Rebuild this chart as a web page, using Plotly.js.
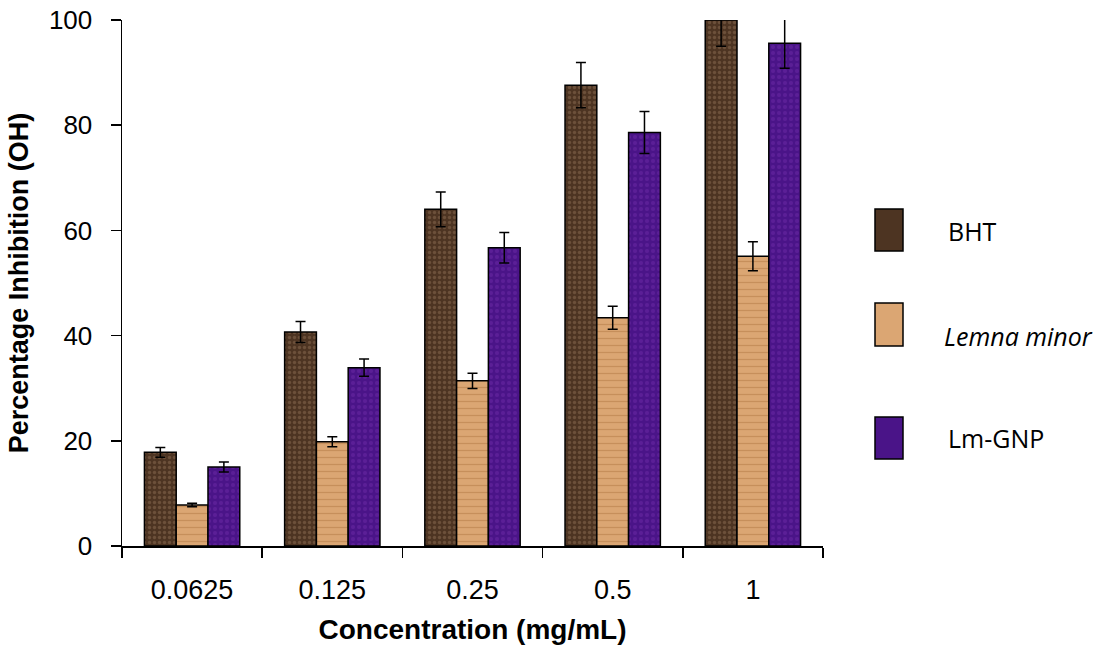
<!DOCTYPE html>
<html>
<head>
<meta charset="utf-8">
<script src="https://cdn.plot.ly/plotly-3.0.1.min.js"></script>
<style>html,body{margin:0;padding:0;background:#fff;}#chart{width:1106px;height:651px;}</style>
</head>
<body>
<div id="chart"></div>
<script>
const categories = ["0.0625", "0.125", "0.25", "0.5", "1"];
const seriesNames = ["BHT", "<i>Lemna minor</i>", "Lm-GNP"];
const bhtValues = [17.8, 40.7, 64.0, 87.6, 100];
const bhtErrors = [0.95, 2.0, 3.3, 4.3, 5.0];
const lemnaValues = [7.8, 19.8, 31.4, 43.4, 55.1];
const lemnaErrors = [0.35, 0.95, 1.45, 2.2, 2.75];
const lmgnpValues = [15.0, 33.9, 56.7, 78.6, 95.6];
const lmgnpErrors = [0.95, 1.65, 2.9, 4.0, 4.75];
const yTicks = [0, 20, 40, 60, 80, 100];

const styles = [
  {bg: "#4d3422", fg: "#8c6c52", shape: ".", size: 5, solidity: 0.35},
  {bg: "#dba673", fg: "#b27843", shape: "-", size: 7, solidity: 0.18},
  {bg: "#4a1488", fg: "#6b2aa6", shape: ".", size: 6, solidity: 0.35}
];

function barTrace(name, vals, errs, st) {
  return {
    type: "bar", name: name, x: categories, y: vals,
    marker: {
      color: st.bg,
      line: {color: "#000", width: 1.5},
      pattern: {shape: st.shape, fgcolor: st.fg, bgcolor: st.bg, size: st.size, solidity: st.solidity, fillmode: "overlay"}
    },
    error_y: {type: "data", array: errs, visible: true, color: "#000", thickness: 1.5, width: 5},
    showlegend: false
  };
}

const data = [
  barTrace(seriesNames[0], bhtValues, bhtErrors, styles[0]),
  barTrace(seriesNames[1], lemnaValues, lemnaErrors, styles[1]),
  barTrace(seriesNames[2], lmgnpValues, lmgnpErrors, styles[2])
];

// plot area in pixels
const L = 122, R = 823, T = 20, B = 546;
function px(x) { return (x - L) / (R - L); }
function py(y) { return (B - y) / (B - T); }

const legendBoxes = [[209, 251], [303, 346], [417, 459]];
const legendTextY = [231, 336, 438];
const shapes = legendBoxes.map((b, i) => ({
  type: "rect", xref: "paper", yref: "paper",
  x0: px(875), x1: px(903), y0: py(b[1]), y1: py(b[0]),
  fillcolor: styles[i].bg, line: {color: "#000", width: 1.5}
}));
const annotations = seriesNames.map((n, i) => ({
  xref: "paper", yref: "paper", x: px(i === 1 ? 942 : 946), y: py(legendTextY[i]),
  xanchor: "left", yanchor: "middle", text: n, showarrow: false,
  font: {family: "Open Sans, sans-serif", size: 25, color: "#000"}
}));

const layout = {
  width: 1106, height: 651,
  margin: {l: L, r: 1106 - R, t: T, b: 651 - B, pad: 0},
  paper_bgcolor: "#fff", plot_bgcolor: "#fff",
  barmode: "group", bargap: 0.32, bargroupgap: 0,
  font: {family: "Liberation Sans, Arial, sans-serif", color: "#000"},
  xaxis: {
    type: "category", showline: true, linecolor: "#000", linewidth: 1.5,
    ticks: "outside", tickson: "boundaries", ticklen: 10, tickwidth: 1.5, tickcolor: "#000",
    tickfont: {size: 27, family: "Liberation Sans, Arial, sans-serif"},
    ticklabelstandoff: 19,
    showgrid: false, zeroline: false,
    title: {text: "<b>Concentration (mg/mL)</b>", font: {size: 28, family: "Liberation Sans, Arial, sans-serif"}, standoff: 15}
  },
  yaxis: {
    range: [0, 100], tickvals: yTicks, showline: true, linecolor: "#000", linewidth: 1.5,
    ticks: "outside", ticklen: 10, tickwidth: 1.5, tickcolor: "#000",
    tickfont: {size: 26, family: "Liberation Sans, Arial, sans-serif"},
    ticklabelstandoff: 13,
    showgrid: false, zeroline: false,
    title: {text: "<b>Percentage Inhibition (OH)</b>", font: {size: 27, family: "Liberation Sans, Arial, sans-serif"}, standoff: 12}
  },
  shapes: shapes,
  annotations: annotations,
  showlegend: false
};

Plotly.newPlot("chart", data, layout, {displayModeBar: false, staticPlot: true});
</script>
</body>
</html>
